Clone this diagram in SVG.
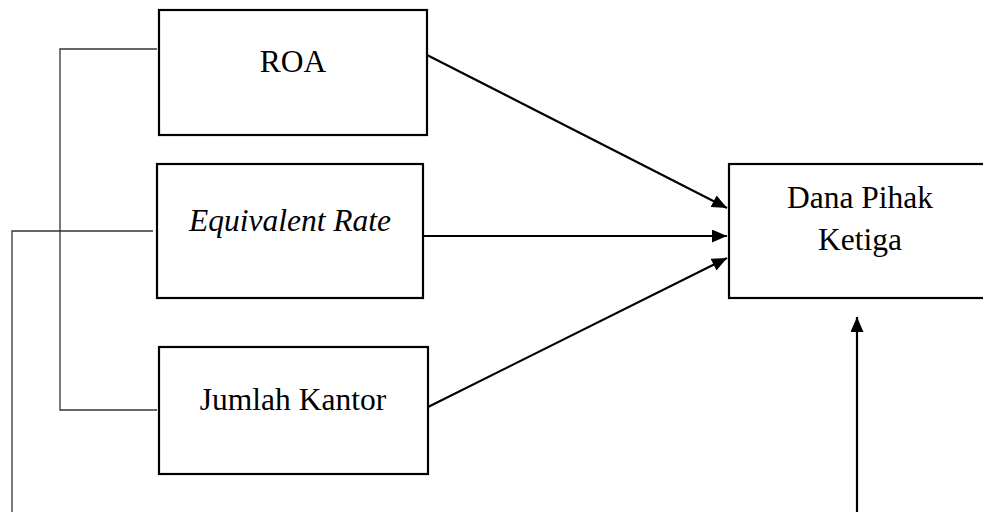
<svg xmlns="http://www.w3.org/2000/svg" width="983" height="512" viewBox="0 0 983 512">
<style>
.box{fill:#fff;stroke:#000;stroke-width:2.2}
.t{font-family:"Liberation Serif","Times New Roman",serif;font-size:31.5px;fill:#000;text-anchor:middle}
.br{fill:none;stroke:#333;stroke-width:1.3}
.ar{fill:none;stroke:#000;stroke-width:2.2}
</style>
<defs>
<marker id="ah" viewBox="0 0 15 13" refX="15" refY="6.5" markerWidth="15" markerHeight="13" markerUnits="userSpaceOnUse" orient="auto">
<path d="M0,0 L15,6.5 L0,13 Z" fill="#000"/>
</marker>
</defs>
<g id="connectors">
<polyline class="br" points="157,49 60,49 60,410 157,410"/>
<polyline class="br" points="153,231 12,231 12,512"/>
<line class="ar" x1="427" y1="55" x2="727" y2="208" marker-end="url(#ah)"/>
<line class="ar" x1="423" y1="236" x2="727" y2="236" marker-end="url(#ah)"/>
<line class="ar" x1="428" y1="407" x2="727" y2="258" marker-end="url(#ah)"/>
<line class="ar" x1="857" y1="512" x2="857" y2="317" marker-end="url(#ah)"/>
</g>
<g id="roa">
<rect class="box" x="159" y="10" width="268" height="125"/>
<text class="t" x="293" y="72">ROA</text>
</g>
<g id="equivalent-rate">
<rect class="box" x="157" y="164" width="266" height="134"/>
<text class="t" x="290" y="231" font-style="italic">Equivalent Rate</text>
</g>
<g id="jumlah-kantor">
<rect class="box" x="159" y="347" width="269" height="127"/>
<text class="t" x="293" y="410">Jumlah Kantor</text>
</g>
<g id="dana-pihak-ketiga">
<rect class="box" x="729" y="164" width="280" height="134"/>
<text class="t" x="860" y="208">Dana Pihak</text>
<text class="t" x="860" y="250">Ketiga</text>
</g>
</svg>
